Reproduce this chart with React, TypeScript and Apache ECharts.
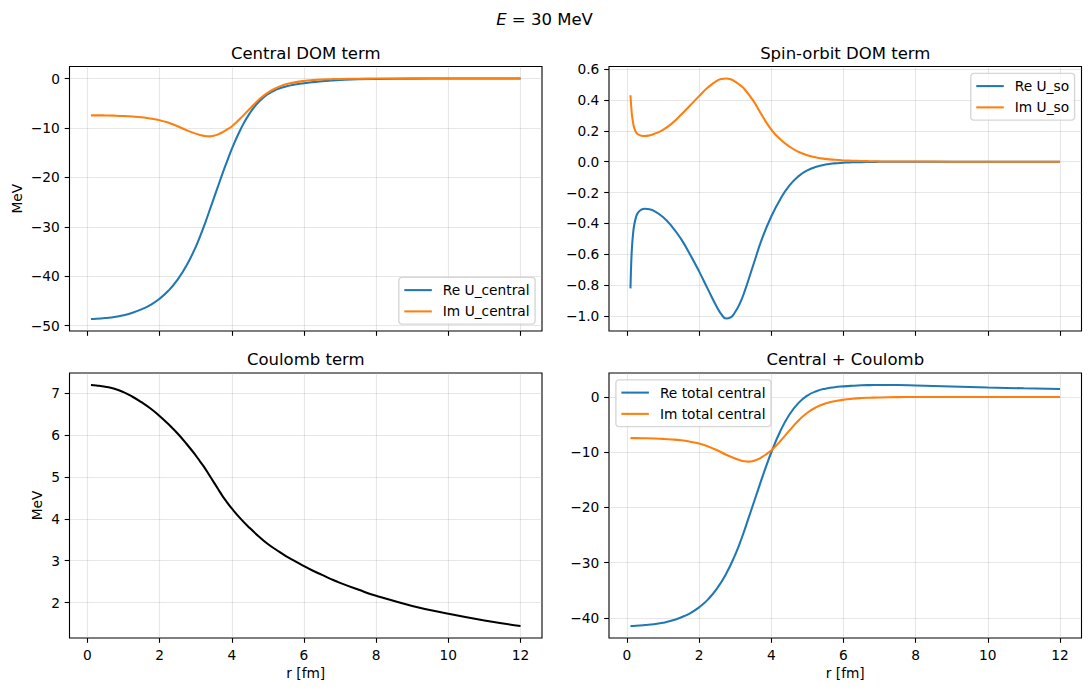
import React, { useEffect, useRef } from "react";
import * as echarts from "echarts";

// Radial grid [fm] shared by the central and Coulomb panels
const rCentral = [0.1, 0.25, 0.5, 0.75, 1.0, 1.25, 1.5, 1.75, 2.0, 2.25, 2.5, 2.75, 3.0, 3.125, 3.25, 3.375, 3.5, 3.625, 3.75, 3.875, 4.0, 4.25, 4.5, 4.75, 5.0, 5.25, 5.5, 5.75, 6.0, 6.25, 6.5, 6.75, 7.0, 7.5, 8.0, 9.0, 10.0, 11.0, 12.0];
const reUCentral = [-48.65, -48.6, -48.45, -48.25, -47.9, -47.4, -46.7, -45.8, -44.55, -42.9, -40.7, -37.8, -34.1, -31.9, -29.5, -26.9, -24.3, -21.7, -19.1, -16.65, -14.3, -10.2, -7.0, -4.7, -3.15, -2.2, -1.6, -1.22, -0.95, -0.73, -0.55, -0.41, -0.3, -0.15, -0.08, -0.02, -0.005, 0, 0];
const imUCentral = [-7.45, -7.45, -7.47, -7.51, -7.58, -7.69, -7.85, -8.1, -8.43, -8.95, -9.65, -10.45, -11.15, -11.42, -11.62, -11.7, -11.58, -11.3, -10.85, -10.3, -9.7, -8.0, -6.1, -4.3, -2.85, -1.85, -1.18, -0.78, -0.5, -0.32, -0.2, -0.13, -0.08, -0.03, -0.01, 0, 0, 0, 0];
const coulomb = [7.2, 7.19, 7.16, 7.11, 7.03, 6.92, 6.79, 6.64, 6.46, 6.26, 6.04, 5.79, 5.52, 5.37, 5.22, 5.05, 4.88, 4.71, 4.54, 4.39, 4.25, 4.0, 3.78, 3.58, 3.4, 3.25, 3.11, 2.99, 2.87, 2.76, 2.66, 2.56, 2.47, 2.31, 2.16, 1.92, 1.73, 1.57, 1.44];
const reTotalCentral = [-41.45, -41.41, -41.29, -41.14, -40.87, -40.48, -39.91, -39.16, -38.09, -36.64, -34.66, -32.01, -28.58, -26.53, -24.28, -21.85, -19.42, -16.99, -14.56, -12.26, -10.05, -6.2, -3.22, -1.12, 0.25, 1.05, 1.51, 1.77, 1.92, 2.03, 2.11, 2.15, 2.17, 2.16, 2.08, 1.9, 1.72, 1.57, 1.44];
const imTotalCentral = imUCentral;

// Spin-orbit term, sampled more densely near the origin and the extrema
const rSpinOrbit = [0.1, 0.12, 0.14, 0.17, 0.2, 0.25, 0.3, 0.4, 0.5, 0.625, 0.75, 1.0, 1.25, 1.5, 1.75, 2.0, 2.25, 2.5, 2.625, 2.75, 2.875, 3.0, 3.125, 3.25, 3.5, 3.75, 4.0, 4.25, 4.5, 4.75, 5.0, 5.25, 5.5, 5.75, 6.0, 6.25, 6.5, 6.75, 7.0, 7.5, 8.0, 9.0, 10.0, 11.0, 12.0];
const reUSo = [-0.82, -0.66, -0.56, -0.47, -0.415, -0.362, -0.333, -0.311, -0.305, -0.308, -0.318, -0.358, -0.42, -0.5, -0.6, -0.71, -0.828, -0.943, -0.99, -1.015, -1.008, -0.973, -0.92, -0.848, -0.67, -0.495, -0.355, -0.243, -0.155, -0.095, -0.056, -0.033, -0.019, -0.011, -0.007, -0.004, -0.003, -0.002, -0.001, 0, 0, 0, 0, 0, 0];
const imUSo = [0.43, 0.36, 0.305, 0.255, 0.222, 0.192, 0.178, 0.168, 0.166, 0.17, 0.179, 0.206, 0.248, 0.303, 0.363, 0.424, 0.481, 0.524, 0.535, 0.538, 0.533, 0.518, 0.497, 0.472, 0.395, 0.297, 0.208, 0.145, 0.098, 0.064, 0.041, 0.027, 0.018, 0.012, 0.008, 0.006, 0.004, 0.003, 0.002, 0.001, 0.001, 0, 0, 0, 0];

// Tick positions
const rTicks = [0, 2, 4, 6, 8, 10, 12];
const centralTicks = [-50, -40, -30, -20, -10, 0];
const soTicks = [-1.0, -0.8, -0.6, -0.4, -0.2, 0.0, 0.2, 0.4, 0.6];
const coulombTicks = [2, 3, 4, 5, 6, 7];
const totalTicks = [-40, -30, -20, -10, 0];

const FONT = "DejaVu Sans";
const PT = 1.375;
const BLUE = "#1f77b4";
const ORANGE = "#ff7f0e";
const GRID_COLOR = "rgba(176,176,176,0.3)";

const pairs = (xs: number[], ys: number[]) => xs.map((x, i) => [x, ys[i]]);
const minus = (s: string) => s.replace("-", "\u2212");

const grids = [
  { left: 69.5, top: 66.5, width: 472.5, height: 264.5 },
  { left: 609, top: 66.5, width: 472.5, height: 264.5 },
  { left: 69.5, top: 373, width: 472.5, height: 265 },
  { left: 609, top: 373, width: 472.5, height: 265 },
];

const tickStyle = { color: "#000", width: 0.8 * PT };
const labelBase = { fontSize: 10 * PT, fontFamily: FONT, color: "#000", margin: 7 * PT };

function xAxis(gridIndex: number, showLabels: boolean) {
  return {
    type: "value",
    gridIndex,
    min: -0.495,
    max: 12.595,
    axisLine: { show: false, onZero: false },
    axisTick: { show: true, inside: false, length: 3.5 * PT, lineStyle: tickStyle, customValues: rTicks },
    axisLabel: { ...labelBase, show: showLabels, customValues: rTicks, formatter: (v: number) => minus(String(v)) },
    splitLine: { show: true, lineStyle: { color: GRID_COLOR, width: 0.8 * PT } },
  };
}

function yAxis(gridIndex: number, min: number, max: number, ticks: number[], digits: number) {
  return {
    type: "value",
    gridIndex,
    min,
    max,
    axisLine: { show: false, onZero: false },
    axisTick: { show: true, inside: false, length: 3.5 * PT, lineStyle: tickStyle, customValues: ticks },
    axisLabel: { ...labelBase, customValues: ticks, formatter: (v: number) => minus(v.toFixed(digits)) },
    splitLine: { show: true, lineStyle: { color: GRID_COLOR, width: 0.8 * PT } },
  };
}

function line(name: string, idx: number, data: number[][], color: string) {
  return {
    type: "line",
    name,
    xAxisIndex: idx,
    yAxisIndex: idx,
    data,
    showSymbol: false,
    smooth: 0.5,
    lineStyle: { width: 1.5 * PT, color },
    itemStyle: { color },
    emphasis: { disabled: true },
  };
}

const legendBase = {
  orient: "vertical",
  selectedMode: false,
  icon: "rect",
  itemWidth: 2 * 10 * PT,
  itemHeight: 1.5 * PT,
  itemGap: 0.5 * 10 * PT,
  padding: [5.5, 5.5, 5.5, 5.5],
  backgroundColor: "rgba(255,255,255,0.8)",
  borderColor: "rgba(204,204,204,0.8)",
  borderWidth: 1 * PT,
  borderRadius: 3,
  textStyle: { fontSize: 10 * PT, fontFamily: FONT, color: "#000", lineHeight: 14.4, padding: [0, 0, 0, 6] },
};

function text(x: number, y: number, str: string, size: number, rotation = 0, rich?: any) {
  return {
    type: "text",
    x,
    y,
    rotation,
    silent: true,
    style: {
      text: str,
      fontSize: size,
      fontFamily: FONT,
      fill: "#000",
      textAlign: "center",
      textVerticalAlign: "middle",
      align: "center",
      verticalAlign: "middle",
      ...(rich ? { rich } : {}),
    },
  };
}

export default function App() {
  const ref = useRef<HTMLDivElement>(null);

  useEffect(() => {
    if (!ref.current) return;
    const chart = echarts.init(ref.current, undefined, { renderer: "svg" });
    const colL = grids[0].left + grids[0].width / 2;
    const colR = grids[1].left + grids[1].width / 2;
    const title = 12 * PT;

    chart.setOption({
      animation: false,
      backgroundColor: "#fff",
      textStyle: { fontFamily: FONT },
      grid: grids.map((g) => ({ ...g, show: true, borderColor: "#000", borderWidth: 0.8 * PT, backgroundColor: "transparent" })),
      xAxis: [xAxis(0, false), xAxis(1, false), xAxis(2, true), xAxis(3, true)],
      yAxis: [
        yAxis(0, -51.0825, 2.4325, centralTicks, 0),
        yAxis(1, -1.0958, 0.6158, soTicks, 1),
        yAxis(2, 1.152, 7.488, coulombTicks, 0),
        yAxis(3, -43.63, 4.34, totalTicks, 0),
      ],
      legend: [
        { ...legendBase, data: ["Re U_central", "Im U_central"], right: 1089 - 535.1, bottom: 691 - 324.1 },
        { ...legendBase, data: ["Re U_so", "Im U_so"], right: 1089 - 1074.6, top: 73.4 },
        { ...legendBase, data: ["Re total central", "Im total central"], left: 615.9, top: 379.9 },
      ],
      series: [
        line("Re U_central", 0, pairs(rCentral, reUCentral), BLUE),
        line("Im U_central", 0, pairs(rCentral, imUCentral), ORANGE),
        line("Re U_so", 1, pairs(rSpinOrbit, reUSo), BLUE),
        line("Im U_so", 1, pairs(rSpinOrbit, imUSo), ORANGE),
        line("Coulomb", 2, pairs(rCentral, coulomb), "#000"),
        line("Re total central", 3, pairs(rCentral, reTotalCentral), BLUE),
        line("Im total central", 3, pairs(rCentral, imTotalCentral), ORANGE),
      ],
      graphic: [
        text(544.5, 19.5, "{i|E} = 30 MeV", title, 0, {
          i: { fontStyle: "italic", fontSize: title, fontFamily: FONT, fill: "#000" },
        }),
        text(colL, 53.2, "Central DOM term", title),
        text(colR, 53.2, "Spin-orbit DOM term", title),
        text(colL, 359.7, "Coulomb term", title),
        text(colR, 359.7, "Central + Coulomb", title),
        text(16.8, 198.75, "MeV", 10 * PT, Math.PI / 2),
        text(37.3, 505.5, "MeV", 10 * PT, Math.PI / 2),
        text(colL, 672.5, "r [fm]", 10 * PT),
        text(colR, 672.5, "r [fm]", 10 * PT),
      ],
    });

    return () => chart.dispose();
  }, []);

  return (
    <div
      ref={ref}
      style={{ position: "fixed", left: 0, top: 0, width: 1089, height: 691, background: "#fff" }}
    />
  );
}
